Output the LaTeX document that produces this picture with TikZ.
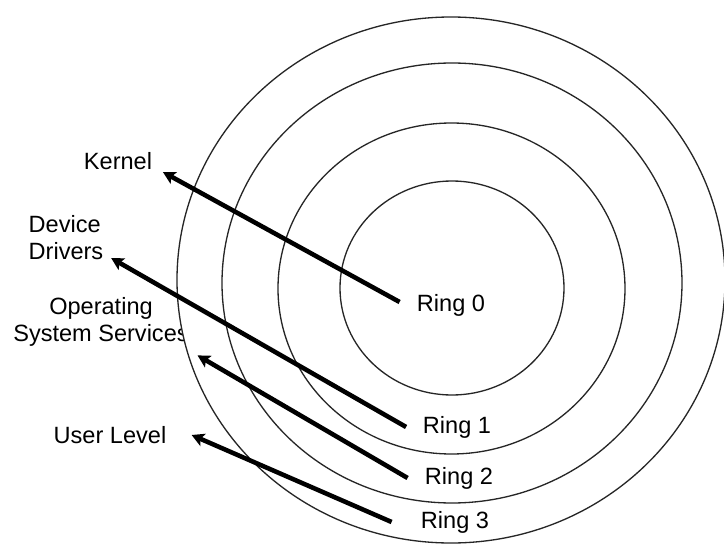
\documentclass[tikz,border=0pt]{standalone}
\usepackage{fontspec}
\setmainfont{Liberation Sans}
\usetikzlibrary{arrows.meta}

\begin{document}
\begin{tikzpicture}[
  >={Stealth[length=7pt, width=7.5pt, inset=1.5pt]},
  lbl/.style={font=\fontsize{13.4}{15.4}\selectfont, inner sep=2pt, align=center},
  ring/.style={draw=black!85, line width=0.75pt},
  arr/.style={->, line width=2.6pt}
]
\useasboundingbox (0,0) rectangle (14.48,10.9);

%% Layer labels (left)
\node[lbl] (kernel) at (2.36,7.68) {Kernel};
\node[lbl, align=left] (drivers) at (1.32,6.14) {Device\\Drivers};
\node[lbl] (ossvc) at (2.02,4.46) {Operating\\System Services};
\node[lbl] (user) at (2.20,2.20) {User Level};

%% Rings (outer one filled white, it hides the end of the text)
\filldraw[ring, fill=white] (9.02,5.30) ellipse [x radius=5.48, y radius=5.26];
\draw[ring] (9.04,5.24) ellipse [x radius=4.60, y radius=4.40];
\draw[ring] (9.03,5.13) ellipse [x radius=3.47, y radius=3.31];
\draw[ring] (9.04,5.14) ellipse [x radius=2.24, y radius=2.14];

%% Ring labels
\node[lbl] (ring0) at (9.02,4.80) {Ring 0};
\node[lbl] (ring1) at (9.14,2.36) {Ring 1};
\node[lbl] (ring2) at (9.18,1.34) {Ring 2};
\node[lbl] (ring3) at (9.10,0.46) {Ring 3};

%% Arrows
\draw[arr] ([xshift=-0.27cm, yshift=0.06cm]ring0.west) -- ([xshift=0.14cm, yshift=-0.22cm]kernel.east);
\draw[arr] ([xshift=-0.26cm]ring1.west) -- ([xshift=0.08cm, yshift=0.12cm]drivers.south east);
\draw[arr] ([xshift=-0.27cm]ring2.west) -- ([xshift=0.1cm, yshift=-0.1cm]ossvc.south east);
\draw[arr] ([xshift=-0.51cm]ring3.west) -- ([xshift=0.43cm]user.east);

\end{tikzpicture}
\end{document}
